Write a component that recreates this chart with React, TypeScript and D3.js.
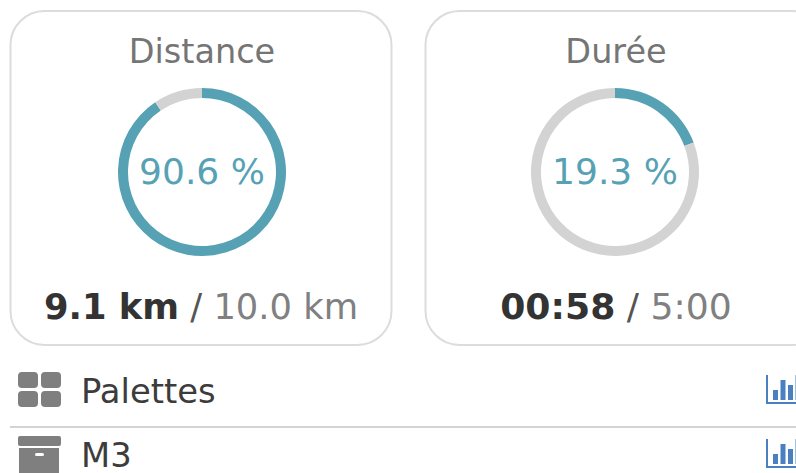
import { arc, pie, scaleLinear } from 'd3';

const cardTitles = ['Distance', 'Durée'];
const percentValues = [90.6, 19.3];
const percentLabels = ['90.6 %', '19.3 %'];
const doneLabels = ['9.1 km', '00:58'];
const totalLabels = ['10.0 km', '5:00'];
const iconBars = [10, 20, 15, 25];

const FONT = '"DejaVu Sans", Verdana, sans-serif';
const TEAL = '#56a2b4';
const RING_GREY = '#d3d3d3';

const cards = [
  { x: 10.5, width: 381, cx: 202, titleX: 202, footX: 201, footSize: 35.3 },
  { x: 425.5, width: 400, cx: 615, titleX: 616, footX: 616, footSize: 36.2 },
];

const ring = arc<any>().innerRadius(74).outerRadius(84);
const ringPie = pie<number>().sort(null);

function BarsIcon({ y }: { y: number }) {
  const bx = scaleLinear().domain([0, 1]).range([773, 780.5]);
  return (
    <g>
      <path d={`M767 ${y} V${y + 28} H796`} fill="none" stroke="#4a80bf" strokeWidth={2} />
      {iconBars.map((h, i) => (
        <rect key={i} x={bx(i)} y={y + 25 - h} width={5} height={h} fill="#4a80bf" />
      ))}
    </g>
  );
}

export default function App() {
  return (
    <svg
      width={796}
      height={473}
      style={{ position: 'absolute', left: 0, top: 0, background: '#fff' }}
      fontFamily={FONT}
    >
      {cards.map((c, i) => (
        <g key={cardTitles[i]}>
          <rect x={c.x} y={11} width={c.width} height={334} rx={34} fill="none" stroke="#dcdcdc" strokeWidth={2} />
          <text x={c.titleX} y={63} textAnchor="middle" fontSize={33.5} fill="#757575">
            {cardTitles[i]}
          </text>
          <g transform={`translate(${c.cx},172)`}>
            {ringPie([percentValues[i], 100 - percentValues[i]]).map((s, j) => (
              <path key={j} d={ring(s) || ''} fill={j === 0 ? TEAL : RING_GREY} />
            ))}
            <text y={12} textAnchor="middle" fontSize={36} fill={TEAL}>
              {percentLabels[i]}
            </text>
          </g>
          <text x={c.footX} y={319} textAnchor="middle" fontSize={c.footSize}>
            <tspan fontWeight="bold" fill="#333">{doneLabels[i]}</tspan>
            <tspan fill="#555"> / </tspan>
            <tspan fill="#808080">{totalLabels[i]}</tspan>
          </text>
        </g>
      ))}

      {/* Palettes row */}
      <g fill="#7f7f7f">
        <rect x={18} y={372} width={20} height={16} rx={4} />
        <rect x={41} y={372} width={20} height={16} rx={4} />
        <rect x={18} y={391} width={20} height={16} rx={4} />
        <rect x={41} y={391} width={20} height={16} rx={4} />
      </g>
      <text x={81} y={403} fontSize={33.8} fill="#3c3c3c">Palettes</text>
      <BarsIcon y={375} />

      <line x1={10} x2={796} y1={427} y2={427} stroke="#d4d4d4" strokeWidth={2} />

      {/* M3 row */}
      <g fill="#7f7f7f">
        <rect x={18} y={436} width={43} height={10} rx={2} />
        <path d={`M19 448 H59 V473 H19 Z`} />
      </g>
      <rect x={35} y={453} width={9} height={3} rx={1.5} fill="#fff" />
      <text x={81} y={467} fontSize={33.8} fill="#3c3c3c">M3</text>
      <BarsIcon y={439} />
    </svg>
  );
}
